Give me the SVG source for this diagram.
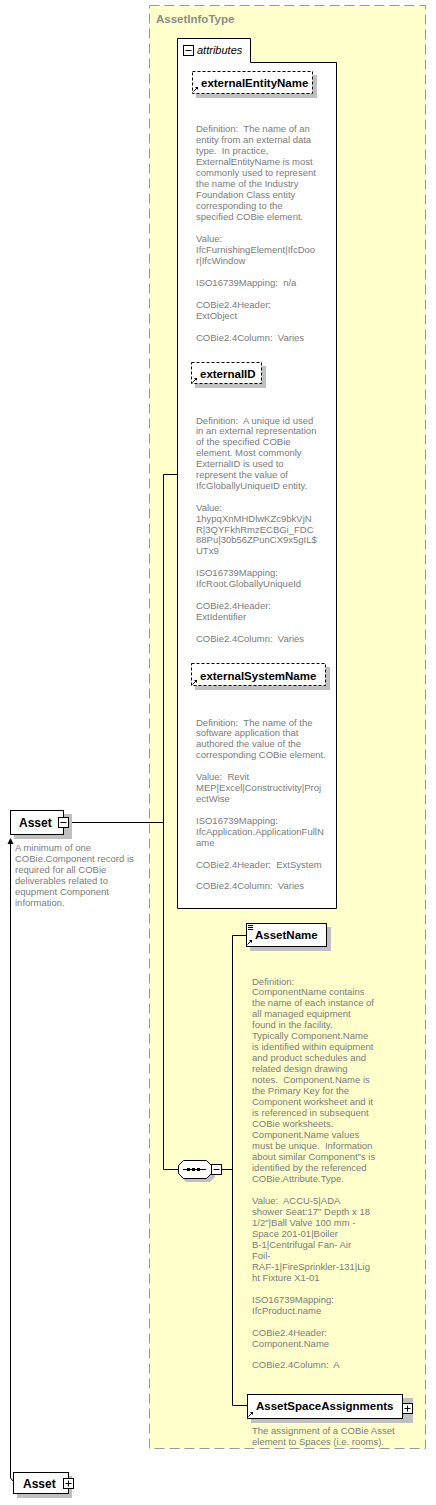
<svg xmlns="http://www.w3.org/2000/svg" width="436" height="1505" viewBox="0 0 436 1505">
<style>
.desc{font-family:"Liberation Sans",Arial,sans-serif;font-size:9.5px;fill:#7c7c7c;white-space:pre}
.lbl{font-family:"Liberation Sans",Arial,sans-serif;font-size:11.5px;font-weight:bold;fill:#000}
.title{font-family:"Liberation Sans",Arial,sans-serif;font-size:11.5px;font-weight:bold;fill:#8c8c8c}
.ital{font-family:"Liberation Sans",Arial,sans-serif;font-size:11px;font-style:italic;fill:#000}
.shadow{fill:#c0c0c0}
.box{fill:#fff;stroke:#000;stroke-width:1}
.opt{fill:#fff;stroke:#000;stroke-width:1;stroke-dasharray:3,2}
.conn{fill:none;stroke:#000;stroke-width:1}
.icon{fill:none;stroke:#000;stroke-width:1}
</style>
<defs>
<marker id="arrowUp" markerWidth="8" markerHeight="8" refX="4" refY="1" orient="0" markerUnits="userSpaceOnUse">
<path d="M1,6 L4,0 L7,6 Z" fill="#000"/>
</marker>
<g id="refArrow"><path d="M0.5,5.5 L4,2" stroke="#000" stroke-width="1"/><path d="M2,1 L5,1 L5,4 Z" fill="#000"/></g>
<g id="minusBox"><rect x="0.5" y="0.5" width="10" height="10" class="box"/><path d="M2.5,5.5 H8.5" stroke="#000" stroke-width="1"/></g>
<g id="plusBox"><rect x="0.5" y="0.5" width="10" height="10" class="box"/><path d="M2.5,5.5 H8.5 M5.5,2.5 V8.5" stroke="#000" stroke-width="1"/></g>
</defs>

<g id="node-AssetInfoType">
<rect x="149.5" y="5.5" width="276" height="1443" fill="#ffffcc" stroke="#999" stroke-width="1" stroke-dasharray="10,5"/>
<text class="title" x="156" y="23">AssetInfoType</text>
</g>

<g id="connectors">
<path class="conn" d="M69,822.5 H163.5"/>
<path class="conn" d="M163.5,474.5 V1169.5"/>
<path class="conn" d="M163.5,474.5 H177"/>
<path class="conn" d="M163.5,1169.5 H178"/>
<path class="conn" d="M222,1169.5 H232.5"/>
<path class="conn" d="M232.5,935.5 V1405.5"/>
<path class="conn" d="M232.5,935.5 H246"/>
<path class="conn" d="M232.5,1405.5 H247"/>
<path class="conn" d="M14,1482 L10.5,1478 V839" marker-end="url(#arrowUp)"/>
</g>

<g id="node-attributes">
<path class="box" d="M177.5,908.5 V38.5 H250.5 V62.5 H336.5 V908.5 Z"/>
<use href="#minusBox" x="183" y="45"/>
<text class="ital" x="197" y="54">attributes</text>
</g>

<g id="node-externalEntityName">
<rect class="shadow" x="196" y="75" width="121" height="23"/>
<rect class="opt" x="192.5" y="71.5" width="120" height="22"/>
<use href="#refArrow" x="193" y="86"/>
<text class="lbl" x="201" y="86.5">externalEntityName</text>
<text class="desc" x="196" y="131.5"><tspan x="196">Definition:  The name of an</tspan><tspan x="196" dy="11">entity from an external data</tspan><tspan x="196" dy="11">type.  In practice,</tspan><tspan x="196" dy="11">ExternalEntityName is most</tspan><tspan x="196" dy="11">commonly used to represent</tspan><tspan x="196" dy="11">the name of the Industry</tspan><tspan x="196" dy="11">Foundation Class entity</tspan><tspan x="196" dy="11">corresponding to the</tspan><tspan x="196" dy="11">specified COBie element.</tspan><tspan x="196" dy="22">Value:</tspan><tspan x="196" dy="11">IfcFurnishingElement|IfcDoo</tspan><tspan x="196" dy="11">r|IfcWindow</tspan><tspan x="196" dy="22">ISO16739Mapping:  n/a</tspan><tspan x="196" dy="22">COBie2.4Header:</tspan><tspan x="196" dy="11">ExtObject</tspan><tspan x="196" dy="22">COBie2.4Column:  Varies</tspan></text>
</g>

<g id="node-externalID">
<rect class="shadow" x="195" y="366" width="71" height="22"/>
<rect class="opt" x="191.5" y="362.5" width="70" height="21"/>
<use href="#refArrow" x="192" y="377"/>
<text class="lbl" x="200" y="378">externalID</text>
<text class="desc" x="196" y="423.5"><tspan x="196">Definition:  A unique id used</tspan><tspan x="196" dy="10.9">in an external representation</tspan><tspan x="196" dy="10.9">of the specified COBie</tspan><tspan x="196" dy="10.9">element. Most commonly</tspan><tspan x="196" dy="10.9">ExternalID is used to</tspan><tspan x="196" dy="10.9">represent the value of</tspan><tspan x="196" dy="10.9">IfcGloballyUniqueID entity.</tspan><tspan x="196" dy="21.8">Value:</tspan><tspan x="196" dy="10.9">1hypqXnMHDlwKZc9bkVjN</tspan><tspan x="196" dy="10.9">R|3QYFkhRmzECBGi_FDC</tspan><tspan x="196" dy="10.9">88Pu|30b56ZPunCX9x5gIL$</tspan><tspan x="196" dy="10.9">UTx9</tspan><tspan x="196" dy="21.8">ISO16739Mapping:</tspan><tspan x="196" dy="10.9">IfcRoot.GloballyUniqueId</tspan><tspan x="196" dy="21.8">COBie2.4Header:</tspan><tspan x="196" dy="10.9">ExtIdentifier</tspan><tspan x="196" dy="21.8">COBie2.4Column:  Varies</tspan></text>
</g>

<g id="node-externalSystemName">
<rect class="shadow" x="195" y="667" width="135" height="23"/>
<rect class="opt" x="191.5" y="663.5" width="134" height="22"/>
<use href="#refArrow" x="192" y="679"/>
<text class="lbl" x="200" y="680">externalSystemName</text>
<text class="desc" x="196" y="725.5"><tspan x="196">Definition:  The name of the</tspan><tspan x="196" dy="10.93">software application that</tspan><tspan x="196" dy="10.93">authored the value of the</tspan><tspan x="196" dy="10.93">corresponding COBie element.</tspan><tspan x="196" dy="21.86">Value:  Revit</tspan><tspan x="196" dy="10.93">MEP|Excel|Constructivity|Proj</tspan><tspan x="196" dy="10.93">ectWise</tspan><tspan x="196" dy="21.86">ISO16739Mapping:</tspan><tspan x="196" dy="10.93">IfcApplication.ApplicationFullN</tspan><tspan x="196" dy="10.93">ame</tspan><tspan x="196" dy="21.86">COBie2.4Header:  ExtSystem</tspan><tspan x="196" dy="21.86">COBie2.4Column:  Varies</tspan></text>
</g>

<g id="node-Asset">
<rect class="shadow" x="14" y="814" width="58" height="25"/>
<rect class="box" x="10.5" y="810.5" width="53" height="24"/>
<text class="lbl" x="19" y="826.5" style="font-size:12px">Asset</text>
<use href="#minusBox" x="58" y="817"/>
<text class="desc" x="15" y="850.5"><tspan x="15">A minimum of one</tspan><tspan x="15" dy="11">COBie.Component record is</tspan><tspan x="15" dy="11">required for all COBie</tspan><tspan x="15" dy="11">deliverables related to</tspan><tspan x="15" dy="11">equpment Component</tspan><tspan x="15" dy="11">information.</tspan></text>
</g>

<g id="node-sequence">
<path class="shadow" d="M186,1164 L210,1164 L215,1169 L215,1177 L210,1182 L186,1182 L181,1177 L181,1169 Z"/>
<path class="box" d="M183.5,1160.5 L206.5,1160.5 L211.5,1165.5 L211.5,1173.5 L206.5,1178.5 L183.5,1178.5 L178.5,1173.5 L178.5,1165.5 Z"/>
<path d="M183,1169.5 H206" stroke="#000" stroke-width="1"/>
<rect x="187" y="1168" width="3" height="3" fill="#000"/>
<rect x="192" y="1168" width="3" height="3" fill="#000"/>
<rect x="197" y="1168" width="3" height="3" fill="#000"/>
<use href="#minusBox" x="211" y="1164"/>
</g>

<g id="node-AssetName">
<rect class="shadow" x="250" y="927" width="81" height="24"/>
<rect class="box" x="246.5" y="923.5" width="80" height="23"/>
<path class="icon" d="M248,925.5 H253 M248,927.5 H253 M248,929.5 H253"/>
<use href="#refArrow" x="247" y="939"/>
<text class="lbl" x="255" y="938.5">AssetName</text>
<text class="desc" x="252" y="984.5"><tspan x="252">Definition:</tspan><tspan x="252" dy="10.97">ComponentName contains</tspan><tspan x="252" dy="10.97">the name of each instance of</tspan><tspan x="252" dy="10.97">all managed equipment</tspan><tspan x="252" dy="10.97">found in the facility.</tspan><tspan x="252" dy="10.97">Typically Component.Name</tspan><tspan x="252" dy="10.97">is identified within equipment</tspan><tspan x="252" dy="10.97">and product schedules and</tspan><tspan x="252" dy="10.97">related design drawing</tspan><tspan x="252" dy="10.97">notes.  Component.Name is</tspan><tspan x="252" dy="10.97">the Primary Key for the</tspan><tspan x="252" dy="10.97">Component worksheet and it</tspan><tspan x="252" dy="10.97">is referenced in subsequent</tspan><tspan x="252" dy="10.97">COBie worksheets.</tspan><tspan x="252" dy="10.97">Component.Name values</tspan><tspan x="252" dy="10.97">must be unique.  Information</tspan><tspan x="252" dy="10.97">about similar Component"s is</tspan><tspan x="252" dy="10.97">identified by the referenced</tspan><tspan x="252" dy="10.97">COBie.Attribute.Type.</tspan><tspan x="252" dy="21.94">Value:  ACCU-5|ADA</tspan><tspan x="252" dy="10.97">shower Seat:17" Depth x 18</tspan><tspan x="252" dy="10.97">1/2"|Ball Valve 100 mm -</tspan><tspan x="252" dy="10.97">Space 201-01|Boiler</tspan><tspan x="252" dy="10.97">B-1|Centrifugal Fan- Air</tspan><tspan x="252" dy="10.97">Foil-</tspan><tspan x="252" dy="10.97">RAF-1|FireSprinkler-131|Lig</tspan><tspan x="252" dy="10.97">ht Fixture X1-01</tspan><tspan x="252" dy="21.94">ISO16739Mapping:</tspan><tspan x="252" dy="10.97">IfcProduct.name</tspan><tspan x="252" dy="21.94">COBie2.4Header:</tspan><tspan x="252" dy="10.97">Component.Name</tspan><tspan x="252" dy="21.94">COBie2.4Column:  A</tspan></text>
</g>

<g id="node-AssetSpaceAssignments">
<rect class="shadow" x="251" y="1398" width="162" height="25"/>
<rect class="box" x="247.5" y="1394.5" width="155" height="24"/>
<use href="#refArrow" x="248" y="1411"/>
<text class="lbl" x="256" y="1410">AssetSpaceAssignments</text>
<use href="#plusBox" x="402" y="1403"/>
<text class="desc" x="252" y="1434"><tspan x="252">The assignment of a COBie Asset</tspan><tspan x="252" dy="11">element to Spaces (i.e. rooms).</tspan></text>
</g>

<g id="node-AssetRef">
<rect class="shadow" x="17" y="1476" width="55" height="22"/>
<rect class="box" x="13.5" y="1472.5" width="55" height="21"/>
<text class="lbl" x="23" y="1487.5" style="font-size:12px">Asset</text>
<use href="#plusBox" x="63" y="1478"/>
</g>
</svg>
